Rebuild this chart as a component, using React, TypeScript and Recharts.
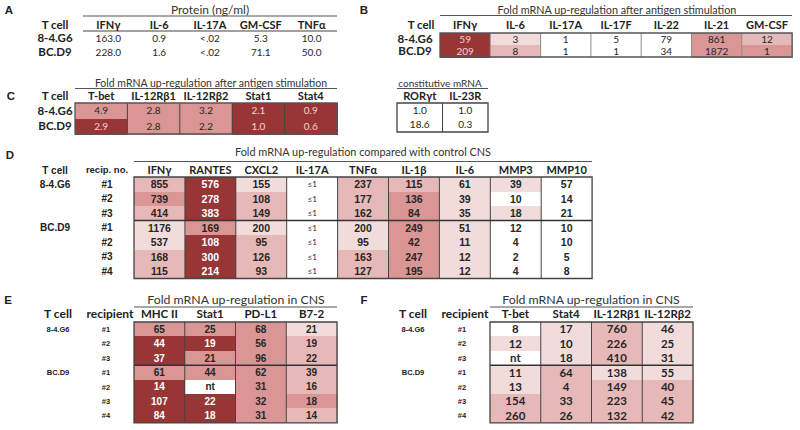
import React from "react";
import { ScatterChart, Scatter, XAxis, YAxis, ReferenceLine, ReferenceArea } from "recharts";

const W = 800;
const H = 430;
const CAL = "Lato, 'Open Sans', sans-serif";
const ARIAL = "'Liberation Sans', Arial, sans-serif";
// white, lightest pink, light pink, mid rose, dark red
const SHADES = ["#ffffff", "#f2dcdb", "#e6b9b8", "#d99694", "#983636"];

// A: protein
const aCols = ["IFNγ", "IL-6", "IL-17A", "GM-CSF", "TNFα"];
const aTcell = ["8-4.G6", "BC.D9"];
const aValues = [
  ["163.0", "0.9", "<.02", "5.3", "10.0"],
  ["228.0", "1.6", "<.02", "71.1", "50.0"],
];
const aShades = [
  [0, 0, 0, 0, 0],
  [0, 0, 0, 0, 0],
];

// B: fold mRNA after stimulation
const bCols = ["IFNγ", "IL-6", "IL-17A", "IL-17F", "IL-22", "IL-21", "GM-CSF"];
const bTcell = ["8-4.G6", "BC.D9"];
const bValues = [
  ["59", "3", "1", "5", "79", "861", "12"],
  ["209", "8", "1", "1", "34", "1872", "1"],
];
const bShades = [
  [4, 1, 0, 0, 0, 3, 2],
  [4, 2, 0, 0, 0, 3, 3],
];

// C: transcription factors / receptors
const cCols = ["T-bet", "IL-12Rβ1", "IL-12Rβ2", "Stat1", "Stat4"];
const cTcell = ["8-4.G6", "BC.D9"];
const cValues = [
  ["4.9", "2.8", "3.2", "2.1", "0.9"],
  ["2.9", "2.8", "2.2", "1.0", "0.6"],
];
const cShades = [
  [3, 3, 3, 4, 4],
  [4, 3, 3, 4, 4],
];

// constitutive mRNA
const kCols = ["RORγt", "IL-23R"];
const kValues = [
  ["1.0", "1.0"],
  ["18.6", "0.3"],
];
const kShades = [
  [0, 0],
  [0, 0],
];

// D: CNS vs control
const dCols = ["IFNγ", "RANTES", "CXCL2", "IL-17A", "TNFα", "IL-1β", "IL-6", "MMP3", "MMP10"];
const dTcell = ["8-4.G6", "", "", "BC.D9", "", "", ""];
const dRecip = ["#1", "#2", "#3", "#1", "#2", "#3", "#4"];
const dValues = [
  ["855", "576", "155", "≤1", "237", "115", "61", "39", "57"],
  ["739", "278", "108", "≤1", "177", "136", "39", "10", "14"],
  ["414", "383", "149", "≤1", "162", "84", "35", "18", "21"],
  ["1176", "169", "200", "≤1", "200", "249", "51", "12", "10"],
  ["537", "108", "95", "≤1", "95", "42", "11", "4", "10"],
  ["168", "300", "126", "≤1", "163", "247", "12", "2", "5"],
  ["115", "214", "93", "≤1", "127", "195", "12", "4", "8"],
];
const dShades = [
  [2, 4, 1, 0, 2, 2, 1, 1, 0],
  [3, 4, 2, 0, 2, 3, 1, 0, 0],
  [2, 4, 2, 0, 2, 3, 1, 1, 0],
  [1, 3, 1, 0, 1, 3, 1, 0, 0],
  [1, 4, 2, 0, 1, 3, 1, 0, 0],
  [2, 4, 2, 0, 2, 3, 1, 0, 0],
  [2, 4, 2, 0, 2, 3, 1, 0, 0],
];

// E: in CNS
const eCols = ["MHC II", "Stat1", "PD-L1", "B7-2"];
const eTcell = ["8-4.G6", "", "", "BC.D9", "", "", ""];
const eRecip = ["#1", "#2", "#3", "#1", "#2", "#3", "#4"];
const eValues = [
  ["65", "25", "68", "21"],
  ["44", "19", "56", "19"],
  ["37", "21", "96", "22"],
  ["61", "44", "62", "39"],
  ["14", "nt", "31", "16"],
  ["107", "22", "32", "18"],
  ["84", "18", "31", "14"],
];
const eShades = [
  [3, 3, 3, 1],
  [4, 4, 3, 2],
  [4, 3, 3, 2],
  [3, 3, 3, 2],
  [4, 0, 3, 2],
  [4, 4, 3, 3],
  [4, 4, 3, 2],
];

// F: in CNS
const fCols = ["T-bet", "Stat4", "IL-12Rβ1", "IL-12Rβ2"];
const fTcell = ["8-4.G6", "", "", "BC.D9", "", "", ""];
const fRecip = ["#1", "#2", "#3", "#1", "#2", "#3", "#4"];
const fValues = [
  ["8", "17", "760", "46"],
  ["12", "10", "226", "25"],
  ["nt", "18", "410", "31"],
  ["11", "64", "138", "55"],
  ["13", "4", "149", "40"],
  ["154", "33", "223", "45"],
  ["260", "26", "132", "42"],
];
const fShades = [
  [0, 1, 2, 1],
  [1, 1, 2, 1],
  [0, 1, 2, 1],
  [1, 2, 1, 1],
  [1, 2, 2, 2],
  [2, 2, 2, 2],
  [2, 2, 2, 2],
];

type Panel = {
  cols: string[];
  tcell: string[];
  recip?: string[];
  values: string[][];
  shades: number[][];
  x0: number;
  y0: number;
  cw: number;
  ch: number;
  headY: number;
  headSize: number;
  tcellX: number;
  recipX?: number;
  rowFont: string;
  rowSize: number;
  valFont: string;
  valSize: number;
  valBold: boolean;
  lightText: string;
  colLine?: string;
  outline?: string;
  groupBreak?: number;
  topRule?: boolean;
};

const panels: Panel[] = [
  {
    cols: aCols, tcell: aTcell, values: aValues, shades: aShades,
    x0: 83, y0: 31, cw: 50.8, ch: 14, headY: 25, headSize: 11,
    tcellX: 55, rowFont: CAL, rowSize: 11.5, valFont: CAL, valSize: 10, valBold: false,
    lightText: "#fff", topRule: true,
  },
  {
    cols: bCols, tcell: bTcell, values: bValues, shades: bShades,
    x0: 440, y0: 33, cw: 50.3, ch: 12, headY: 25, headSize: 11,
    tcellX: 415, rowFont: CAL, rowSize: 11.5, valFont: CAL, valSize: 10, valBold: false,
    lightText: "#f3d3d3", colLine: "#8c8c8c", outline: "#555",
  },
  {
    cols: cCols, tcell: cTcell, values: cValues, shades: cShades,
    x0: 75, y0: 103, cw: 52.4, ch: 15.5, headY: 96, headSize: 11,
    tcellX: 55, rowFont: CAL, rowSize: 11.5, valFont: CAL, valSize: 10, valBold: false,
    lightText: "#f3d3d3", colLine: "#444", outline: "#555",
  },
  {
    cols: kCols, tcell: ["", ""], values: kValues, shades: kShades,
    x0: 397, y0: 103, cw: 45.5, ch: 14.5, headY: 96, headSize: 11,
    tcellX: 0, rowFont: CAL, rowSize: 11, valFont: CAL, valSize: 10, valBold: false,
    lightText: "#fff", colLine: "#444", outline: "#444",
  },
  {
    cols: dCols, tcell: dTcell, recip: dRecip, values: dValues, shades: dShades,
    x0: 134, y0: 177, cw: 50.9, ch: 14.5, headY: 170, headSize: 11,
    tcellX: 55, recipX: 107, rowFont: ARIAL, rowSize: 10, valFont: ARIAL, valSize: 10.5, valBold: true,
    lightText: "#fff", colLine: "#444", outline: "#444", groupBreak: 3,
  },
  {
    cols: eCols, tcell: eTcell, recip: eRecip, values: eValues, shades: eShades,
    x0: 134, y0: 322, cw: 50.75, ch: 14.4, headY: 314, headSize: 11.5,
    tcellX: 58, recipX: 106, rowFont: ARIAL, rowSize: 7.5, valFont: ARIAL, valSize: 10, valBold: true,
    lightText: "#fff", colLine: "#444", outline: "#444", groupBreak: 3,
  },
  {
    cols: fCols, tcell: fTcell, recip: fRecip, values: fValues, shades: fShades,
    x0: 490, y0: 322, cw: 50.75, ch: 14.4, headY: 314, headSize: 11.5,
    tcellX: 413, recipX: 462, rowFont: ARIAL, rowSize: 7.5, valFont: CAL, valSize: 11.5, valBold: true,
    lightText: "#fff", colLine: "#444", outline: "#444", groupBreak: 3,
  },
];

// titles, rules and header labels that sit outside the cell grids
const titles = [
  { t: "Protein (ng/ml)", x: 210, y: 10, x1: 83, x2: 337, ly: 16, s: 12 },
  { t: "Fold mRNA up-regulation after antigen stimulation", x: 617, y: 10, x1: 440, x2: 792, ly: 15.5, s: 10.8 },
  { t: "Fold mRNA up-regulation after antigen stimulation", x: 211, y: 83, x1: 75, x2: 337, ly: 88.5, s: 10.5 },
  { t: "constitutive mRNA", x: 440, y: 83, x1: 397, x2: 488, ly: 88.5, s: 10 },
  { t: "Fold mRNA up-regulation compared with control CNS", x: 363, y: 152, x1: 134, x2: 592, ly: 161.5, s: 10.9 },
  { t: "Fold mRNA up-regulation in CNS", x: 236, y: 300, x1: 134, x2: 337, ly: 307, s: 12.3 },
  { t: "Fold mRNA up-regulation in CNS", x: 591, y: 300, x1: 490, x2: 693, ly: 307, s: 12.3 },
];
const letters = [
  { t: "A", x: 9, y: 10 },
  { t: "B", x: 364, y: 10 },
  { t: "C", x: 11, y: 96 },
  { t: "D", x: 10, y: 155 },
  { t: "E", x: 8, y: 300 },
  { t: "F", x: 364, y: 300 },
];
const heads = [
  { t: "T cell", x: 55, y: 25, f: CAL, s: 11.5 },
  { t: "T cell", x: 421, y: 25, f: CAL, s: 11.5 },
  { t: "T cell", x: 55, y: 96, f: CAL, s: 11.5 },
  { t: "T cell", x: 55, y: 170, f: ARIAL, s: 10 },
  { t: "recip. no.", x: 107, y: 170, f: ARIAL, s: 9.5 },
  { t: "T cell", x: 58, y: 314, f: CAL, s: 12 },
  { t: "recipient", x: 110, y: 314, f: CAL, s: 12 },
  { t: "T cell", x: 413, y: 314, f: CAL, s: 12 },
  { t: "recipient", x: 465, y: 314, f: CAL, s: 12 },
];

function HeatTable({ p }: { p: Panel }) {
  const nc = p.cols.length;
  const nr = p.values.length;
  const cells = p.values.flatMap((row, r) =>
    row.map((v, c) => ({ x: c + 0.5, y: r + 0.5, v, s: p.shades[r][c] }))
  );
  const right = W - (p.x0 + nc * p.cw);
  const bottom = H - (p.y0 + nr * p.ch);

  const cellShape = (props: any) => {
    const { cx, cy, payload } = props;
    const small = payload.v === "≤1";
    return (
      <g>
        <rect
          x={cx - p.cw / 2}
          y={cy - p.ch / 2}
          width={p.cw + 0.6}
          height={p.ch + 0.6}
          fill={SHADES[payload.s]}
          shapeRendering="crispEdges"
        />
        <text
          x={cx}
          y={cy}
          dy="0.36em"
          textAnchor="middle"
          fontFamily={small ? CAL : p.valFont}
          fontWeight={p.valBold && !small ? 700 : 400}
          fontSize={small ? 8 : p.valSize}
          fill={payload.s === 4 ? p.lightText : "#262626"}
        >
          {payload.v}
        </text>
      </g>
    );
  };

  return (
    <div style={{ position: "absolute", left: 0, top: 0 }}>
      <ScatterChart width={W} height={H} margin={{ top: 0, left: 0, right, bottom }}>
        <XAxis
          type="number"
          dataKey="x"
          domain={[0, nc]}
          ticks={p.cols.map((_, i) => i + 0.5)}
          interval={0}
          orientation="top"
          height={p.y0}
          axisLine={false}
          tickLine={false}
          tick={(t: any) => (
            <text
              x={t.x}
              y={p.headY}
              dy="0.36em"
              textAnchor="middle"
              fontFamily={CAL}
              fontWeight={700}
              fontSize={p.headSize}
              fill="#222"
            >
              {p.cols[Math.floor(t.payload.value)]}
            </text>
          )}
        />
        <YAxis
          type="number"
          dataKey="y"
          domain={[0, nr]}
          reversed
          ticks={p.values.map((_, i) => i + 0.5)}
          interval={0}
          width={p.x0}
          axisLine={false}
          tickLine={false}
          tick={(t: any) => {
            const r = Math.floor(t.payload.value);
            return (
              <g>
                {p.tcell[r] ? (
                  <text x={p.tcellX} y={t.y} dy="0.36em" textAnchor="middle" fontFamily={p.rowFont}
                    fontWeight={700} fontSize={p.rowSize} fill="#222">
                    {p.tcell[r]}
                  </text>
                ) : null}
                {p.recip ? (
                  <text x={p.recipX} y={t.y} dy="0.36em" textAnchor="middle" fontFamily={p.rowFont}
                    fontWeight={700} fontSize={p.rowSize} fill="#222">
                    {p.recip[r]}
                  </text>
                ) : null}
              </g>
            );
          }}
        />
        <Scatter data={cells} shape={cellShape} isAnimationActive={false} />
        {p.colLine
          ? p.cols.slice(1).map((_, i) => (
              <ReferenceLine key={"c" + i} x={i + 1} stroke={p.colLine} strokeWidth={1} zIndex={700} />
            ))
          : null}
        {p.groupBreak ? (
          <ReferenceLine y={p.groupBreak} stroke="#333" strokeWidth={1.6} zIndex={700} />
        ) : null}
        {p.topRule ? <ReferenceLine y={0} stroke="#444" strokeWidth={1.2} zIndex={700} /> : null}
        {p.outline ? (
          <ReferenceArea x1={0} x2={nc} y1={0} y2={nr} fill="none" fillOpacity={0}
            stroke={p.outline} strokeWidth={1.3} zIndex={700} />
        ) : null}
      </ScatterChart>
    </div>
  );
}

export default function App() {
  return (
    <div style={{ position: "absolute", left: 0, top: 0, width: W, height: H, background: "#fff" }}>
      {panels.map((p, i) => (
        <HeatTable key={i} p={p} />
      ))}
      <svg width={W} height={H} style={{ position: "absolute", left: 0, top: 0, pointerEvents: "none" }}>
        {titles.map((t, i) => (
          <g key={i}>
            <text x={t.x} y={t.y} dy="0.36em" textAnchor="middle" fontFamily={CAL} fontSize={t.s} fill="#333">
              {t.t}
            </text>
            <line x1={t.x1} x2={t.x2} y1={t.ly} y2={t.ly} stroke="#555" strokeWidth={1.2} />
          </g>
        ))}
        {letters.map((l, i) => (
          <text key={i} x={l.x} y={l.y} dy="0.36em" textAnchor="middle" fontFamily={ARIAL} fontWeight={700}
            fontSize={11.5} fill="#222">
            {l.t}
          </text>
        ))}
        {heads.map((h, i) => (
          <text key={i} x={h.x} y={h.y} dy="0.36em" textAnchor="middle" fontFamily={h.f} fontWeight={700}
            fontSize={h.s} fill="#222">
            {h.t}
          </text>
        ))}
      </svg>
    </div>
  );
}
